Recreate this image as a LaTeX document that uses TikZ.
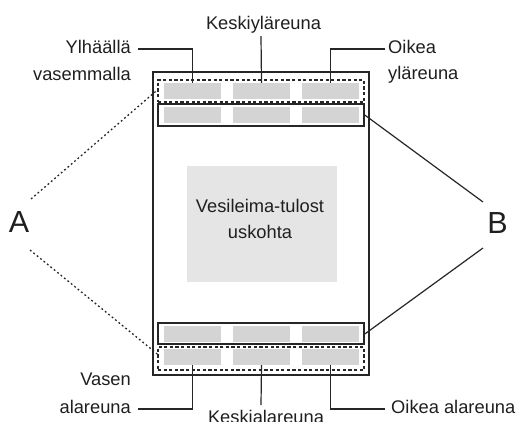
\documentclass[tikz,border=0pt]{standalone}
\usepackage{fontspec}
\setmainfont{Liberation Sans}
\begin{document}
\begin{tikzpicture}[x=1pt,y=-1pt,
  txt/.style={inner sep=0pt,text=black!88,font=\fontsize{18.3}{22}\selectfont},
  big/.style={inner sep=0pt,text=black!88,font=\fontsize{30.5}{34}\selectfont},
  cell/.style={draw=none,fill=black!17,minimum width=57pt,minimum height=16pt,inner sep=0pt},
  pagebox/.style={draw=black!85,line width=1.9pt,inner sep=0pt},
  solidband/.style={draw=black!85,line width=1.5pt,inner sep=0pt},
  dashband/.style={draw=black!85,line width=1.4pt,dash pattern=on 3.2pt off 2.4pt,inner sep=0pt},
  leader/.style={draw=black!85,line width=1.2pt},
  dotleader/.style={draw=black!85,line width=1.3pt,dash pattern=on 1.8pt off 2.6pt},
  wm/.style={fill=black!10,draw=none,inner sep=0pt}]
\useasboundingbox (0,0) rectangle (527,421);
\clip (0,0) rectangle (527,421);
% page
\node[pagebox,minimum width=216pt,minimum height=303pt] (page) at (261,223.5) {};
% bands
\node[dashband,minimum width=206pt,minimum height=22pt] (topdash) at (261,91) {};
\node[solidband,minimum width=206pt,minimum height=22pt] (topsolid) at (261,115) {};
\node[solidband,minimum width=206pt,minimum height=21pt] (botsolid) at (261,333.5) {};
\node[dashband,minimum width=206pt,minimum height=23pt] (botdash) at (261,358.5) {};
% cells
\foreach \n/\x in {l/192.5,c/261.5,r/330.5}{
  \node[cell] (t1\n) at (\x,91) {};
  \node[cell] (t2\n) at (\x,115) {};
  \node[cell] (b1\n) at (\x,334) {};
  \node[cell] (b2\n) at (\x,357) {};
}
% watermark
\node[wm,minimum width=150pt,minimum height=116pt] (wmbox) at (262,224) {};
\node[txt,anchor=base] (wm1) at (260,212) {Vesileima-tulost};
\node[txt,anchor=base] (wm2) at (260,238) {uskohta};
% top labels
\node[txt,anchor=base] (kyla) at (263.5,29) {Keskiyläreuna};
\node[txt,anchor=base east] (ylh) at (131,53) {Ylhäällä};
\node[txt,anchor=base east] (vas) at (131,80) {vasemmalla};
\node[txt,anchor=base west] (oik) at (388,53) {Oikea};
\node[txt,anchor=base west] (yla) at (388,79) {yläreuna};
\coordinate (ylhend) at (138,49);
\coordinate (oikend) at (385,49);
\coordinate (kylaend) at (261,36);
\draw[leader] (t1l.north) |- (ylhend);
\draw[leader] (t1c.north) -- (kylaend);
\draw[leader] (t1r.north) |- (oikend);
% bottom labels
\node[txt,anchor=base east] (vasen) at (131,385) {Vasen};
\node[txt,anchor=base east] (ala) at (131,413) {alareuna};
\node[txt,anchor=base west] (oala) at (391,413) {Oikea alareuna};
\node[txt,anchor=base] (kala) at (266,423.5) {Keskialareuna};
\coordinate (alaend) at (138,409);
\coordinate (oalaend) at (385,409);
\coordinate (kalaend) at (261,405);
\draw[leader] (b2l.south) |- (alaend);
\draw[leader] (b2c.south) -- (kalaend);
\draw[leader] (b2r.south) |- (oalaend);
% A and B
\node[big,anchor=base] (A) at (19,232) {A};
\node[big,anchor=base] (B) at (497.5,233) {B};
\coordinate (Atop) at (31,199);
\coordinate (Abot) at (30,250);
\coordinate (Btop) at (483,202);
\coordinate (Bbot) at (483,248);
\draw[dotleader] (Atop) -- (topdash.west |- 0,90);
\draw[dotleader] (Abot) -- (botdash.west |- 0,354);
\draw[leader] (Btop) -- (topsolid.east |- 0,115);
\draw[leader] (Bbot) -- (botsolid.east |- 0,334);
\end{tikzpicture}
\end{document}
